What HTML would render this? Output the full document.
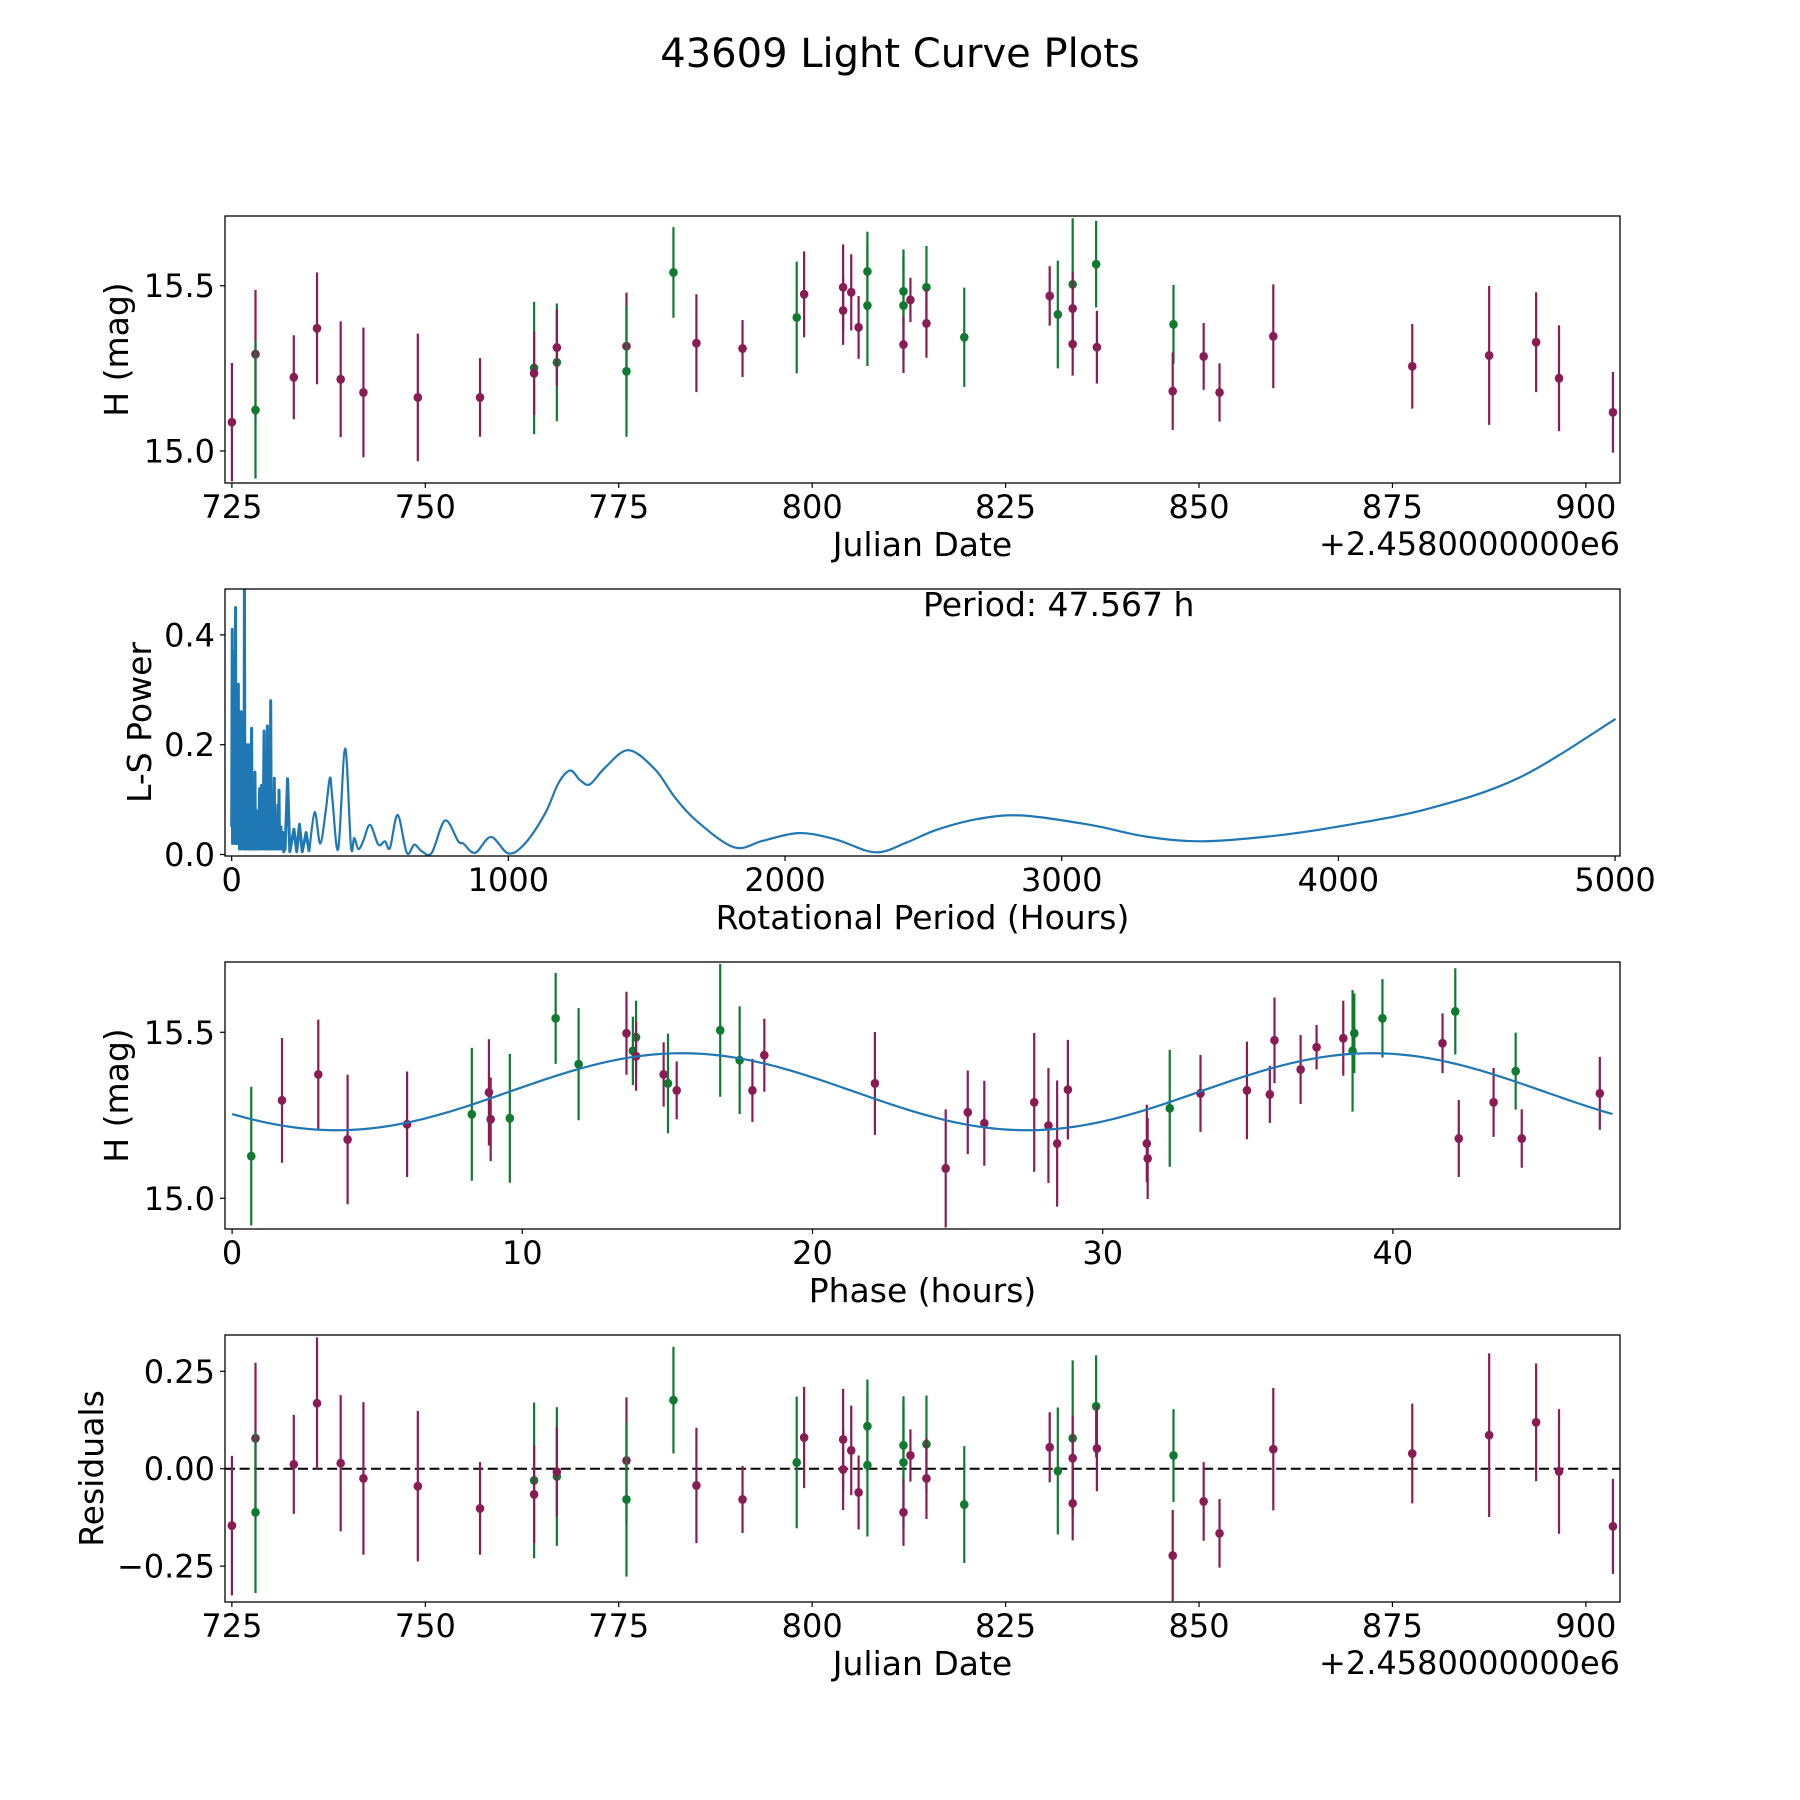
<!DOCTYPE html>
<html><head><meta charset="utf-8">
<style>
html,body{margin:0;padding:0;background:#fff;}
svg{display:block;font-family:"DejaVu Sans","Liberation Sans",sans-serif;}
</style></head>
<body>
<svg id="fig" xmlns="http://www.w3.org/2000/svg" width="1800" height="1800" viewBox="0 0 1800 1800">
<rect width="1800" height="1800" fill="#fff"/>
<text x="900" y="67" font-size="40" text-anchor="middle">43609 Light Curve Plots</text>
</svg>
<script>
// ---- Data: light curve (Julian date offset, H mag, error, band 0=maroon 1=green)
const jd = [725.0,728.05,728.05,733.0,736.0,739.06,742.0,749.03,757.07,764.06,764.06,767.0,767.0,776.0,776.0,782.07,785.04,791.0,798.0,798.96,804.0,804.0,805.05,806.0,807.14,807.14,811.8,811.8,811.8,812.7,814.77,814.77,819.66,830.7,831.75,833.67,833.67,833.67,836.7,836.8,846.7,846.6,850.6,852.65,859.6,877.56,887.5,893.57,896.53,903.5];
const mag = [15.087,15.293,15.124,15.223,15.371,15.217,15.177,15.162,15.162,15.251,15.235,15.268,15.313,15.317,15.241,15.540,15.326,15.310,15.404,15.474,15.495,15.425,15.480,15.374,15.543,15.44,15.483,15.44,15.322,15.457,15.495,15.386,15.344,15.469,15.413,15.504,15.431,15.323,15.565,15.314,15.383,15.181,15.286,15.177,15.347,15.256,15.289,15.329,15.22,15.117];
const magErr = [0.179,0.194,0.207,0.127,0.169,0.175,0.196,0.193,0.119,0.2,0.126,0.178,0.115,0.162,0.198,0.137,0.148,0.086,0.169,0.13,0.13,0.104,0.115,0.095,0.12,0.183,0.106,0.17,0.086,0.067,0.125,0.104,0.15,0.09,0.163,0.2,0.11,0.095,0.131,0.11,0.119,0.117,0.101,0.088,0.157,0.128,0.21,0.151,0.16,0.122];
const band = [0,0,1,0,0,0,0,0,0,1,0,1,0,0,1,1,0,0,1,0,0,0,0,0,1,1,1,1,0,0,1,0,1,0,1,1,0,0,1,0,1,0,0,0,0,0,0,0,0,0];
const resid = [-0.146,0.078,-0.112,0.011,0.168,0.014,-0.025,-0.045,-0.102,-0.030,-0.066,-0.020,-0.008,0.021,-0.079,0.176,-0.043,-0.079,0.016,0.080,0.075,-0.002,0.047,-0.061,0.109,0.009,0.060,0.016,-0.112,0.034,0.063,-0.025,-0.092,0.055,-0.006,0.078,0.027,-0.089,0.160,0.052,0.034,-0.223,-0.084,-0.166,0.050,0.039,0.086,0.119,-0.007,-0.148];
// ---- Data: phase folded
const phase = [0.66,1.72,2.97,3.98,6.03,8.26,8.85,8.91,9.57,11.15,11.94,13.59,13.81,13.92,13.92,14.87,15.02,15.32,16.82,17.49,17.93,18.34,22.15,24.59,25.35,25.92,27.64,28.13,28.43,28.80,31.52,31.55,32.31,33.37,34.97,35.76,35.92,36.82,37.37,38.29,38.61,38.67,39.64,41.71,42.15,42.27,43.47,44.23,44.44,47.13];
const phMag = [15.127,15.295,15.373,15.177,15.223,15.253,15.319,15.238,15.241,15.542,15.404,15.497,15.444,15.485,15.428,15.373,15.346,15.325,15.506,15.416,15.325,15.431,15.346,15.09,15.259,15.226,15.289,15.219,15.165,15.327,15.165,15.12,15.271,15.316,15.325,15.313,15.476,15.388,15.455,15.482,15.444,15.497,15.542,15.467,15.563,15.18,15.289,15.383,15.18,15.316];
const phErr = [0.209,0.188,0.165,0.195,0.159,0.2,0.16,0.126,0.194,0.137,0.169,0.125,0.103,0.11,0.104,0.097,0.15,0.087,0.2,0.162,0.095,0.11,0.155,0.178,0.126,0.128,0.209,0.173,0.19,0.15,0.117,0.122,0.176,0.116,0.147,0.086,0.129,0.104,0.067,0.113,0.183,0.12,0.118,0.09,0.13,0.116,0.104,0.116,0.088,0.11];
const phBand = [1,0,0,0,0,1,0,0,1,1,1,0,1,1,0,0,1,0,1,1,0,0,0,0,0,0,0,0,0,0,0,0,1,0,0,0,0,0,0,0,1,1,1,0,1,0,0,1,0,0];
// fit: mean, amplitude, period (h), phase offset (rad); two peaks per period
const fitParams = [15.321,0.116,47.567,-2.524];
// ---- Data: periodogram (spiky short-period part, then smooth long-period part)
const lsSpikePeriod = [0,2,3,5,6,8,9,11,12,14,15,17,18,20,21,24,25,27,28,31,32,34,35,38,39,42,44,46,48,51,53,56,58,60,62,65,67,70,72,74,77,79,82,84,86,89,91,95,97,101,103,108,110,114,117,119,123,125,129,131,136,138,141,143,148,150,154,156,160,162,167,169,171,173,178,180,185,188,193,202,210,225,235,245,255,269,280];
const lsSpikePower = [0.05,0.41,0.02,0.30,0.03,0.37,0.05,0.24,0.02,0.45,0.03,0.25,0.02,0.28,0.04,0.31,0.02,0.24,0.01,0.2,0.02,0.26,0.01,0.18,0.02,0.22,0.01,0.49,0.01,0.16,0.01,0.2,0.01,0.17,0.01,0.2,0.01,0.16,0.23,0.01,0.1,0.01,0.05,0.15,0.01,0.08,0.01,0.06,0.01,0.12,0.01,0.126,0.01,0.06,0.225,0.01,0.1,0.01,0.234,0.01,0.08,0.01,0.28,0.01,0.07,0.01,0.139,0.01,0.06,0.01,0.09,0.01,0.117,0.01,0.05,0.01,0.04,0.005,0.01,0.138,0.005,0.046,0.005,0.055,0.005,0.04,0.005];
const lsPeriod = [280,300,320,340,355,364,385,410,431,443,458,476,500,530,554,572,600,633,660,687,723,771,819,837,880,937,1000,1060,1133,1181,1223,1260,1295,1349,1434,1530,1602,1683,1816,1920,2049,2180,2326,2440,2548,2700,2858,3102,3300,3501,3750,3989,4322,4654,5002];
const lsPower = [0.005,0.077,0.02,0.08,0.14,0.101,0.01,0.193,0.015,0.03,0.01,0.025,0.054,0.018,0.024,0.012,0.072,0.003,0.018,0.006,0.003,0.062,0.024,0.02,0.003,0.032,0.002,0.02,0.075,0.13,0.153,0.135,0.128,0.158,0.19,0.155,0.104,0.06,0.013,0.025,0.039,0.028,0.004,0.022,0.045,0.065,0.071,0.054,0.033,0.024,0.033,0.05,0.083,0.14,0.247];
const periodLabel = "Period: 47.567 h";
const jdTicks = [725,750,775,800,825,850,875,900];
const magTicks = [15.0,15.5];
const residTicks = [-0.25,0,0.25];
const lsXTicks = [0,1000,2000,3000,4000,5000];
const lsYTicks = [0,0.2,0.4];
const phTicks = [0,10,20,30,40];

const NS = "http://www.w3.org/2000/svg";
const fig = document.getElementById('fig');
const COL = ["#8a1c55","#0f7a30"];
function mk(tag, attrs, parent){ const e=document.createElementNS(NS,tag); for(const k in attrs) e.setAttribute(k,attrs[k]); (parent||fig).appendChild(e); return e; }
function fmt(v,d){ const s=v.toFixed(d); return v<0? "\u2212"+s.slice(1): s; }

const L=225, R=1620;
const jdX = v => 231.9 + (v-725)*7.737;
const p1Y = v => 285.7 - (v-15.5)*330.6;
const p4Y = v => 1468.7 - v*389.6;
const lsX = v => 231.7 + v*0.27667;
const lsY = v => 854.5 - v*549;
const phX = v => 232.1 + v*29.02;
const p3Y = v => 1032.3 - (v-15.5)*332;

function frame(name, top, bot){
  const r = mk('rect',{x:L,y:top,width:R-L,height:bot-top,fill:'none',stroke:'#000','stroke-width':1.3});
  
  
}
function xticks(name, ticks, fx, bot, dec){
  ticks.forEach(t=>{
    const x=fx(t);
    const l=mk('line',{x1:x,x2:x,y1:bot,y2:bot+5,stroke:'#000','stroke-width':1.2});
    
    
    const tx=mk('text',{x:x,y:bot+35,'font-size':32,'text-anchor':'middle'});
    tx.textContent = fmt(t,dec);
    
    
  });
}
function yticks(name, ticks, fy, dec){
  ticks.forEach(t=>{
    const y=fy(t);
    const l=mk('line',{x1:L-5,x2:L,y1:y,y2:y,stroke:'#000','stroke-width':1.2});
    
    
    const tx=mk('text',{x:L-10,y:y+11.5,'font-size':32,'text-anchor':'end'});
    tx.textContent = fmt(t,dec);
    
    
  });
}
function ylabel(name, txt, x, cy){
  const t=mk('text',{x:x,y:cy,'font-size':33,'text-anchor':'middle',transform:`rotate(-90 ${x} ${cy})`});
  t.textContent=txt;
  
  
}
function xlabel(name, txt, bot){
  const t=mk('text',{x:(L+R)/2,y:bot+73,'font-size':33,'text-anchor':'middle'});
  t.textContent=txt;
  
  
}
function offsetText(name, bot){
  const t=mk('text',{x:R,y:bot+72,'font-size':32,'text-anchor':'end'});
  t.textContent='+2.4580000000e6';
  
  
}
function clip(id, top, bot){
  const c=mk('clipPath',{id:id});
  mk('rect',{x:L,y:top,width:R-L,height:bot-top},c);
}
function points(name, xs, ys, es, bs, fx, fy, clipId){
  const g=mk('g',{'clip-path':`url(#${clipId})`});
  
  
  xs.forEach((xv,i)=>{
    const x=fx(xv), c=COL[bs[i]];
    const bar=mk('line',{x1:x,x2:x,y1:fy(ys[i]-es[i]),y2:fy(ys[i]+es[i]),stroke:c,'stroke-width':2.2},g);
    
    
    const dot=mk('ellipse',{cx:x,cy:fy(ys[i]),rx:4.3,ry:4.5,fill:c},g);
    
    
  });
}
// smooth Catmull-Rom path through points
function smoothPath(P){
  let d='M'+P[0][0].toFixed(2)+' '+P[0][1].toFixed(2);
  for(let i=0;i<P.length-1;i++){
    const p0=P[Math.max(0,i-1)], p1=P[i], p2=P[i+1], p3=P[Math.min(P.length-1,i+2)];
    const c1x=p1[0]+(p2[0]-p0[0])/6, c1y=p1[1]+(p2[1]-p0[1])/6;
    const c2x=p2[0]-(p3[0]-p1[0])/6, c2y=p2[1]-(p3[1]-p1[1])/6;
    d+=` C${c1x.toFixed(2)} ${c1y.toFixed(2)} ${c2x.toFixed(2)} ${c2y.toFixed(2)} ${p2[0].toFixed(2)} ${p2[1].toFixed(2)}`;
  }
  return d;
}

// ---- Panel 1
clip('c1',216,483);
points('light-curve', jd, mag, magErr, band, jdX, p1Y, 'c1');
frame('light-curve',216,483);
xticks('light-curve', jdTicks, jdX, 483, 0);
yticks('light-curve', magTicks, p1Y, 1);
xlabel('light-curve','Julian Date',483);
offsetText('light-curve',483);
ylabel('light-curve','H (mag)',128,349.5);

// ---- Panel 2: periodogram
clip('c2',589,856);
const spikePath = lsSpikePeriod.map((p,i)=>(i?'L':'M')+lsX(p).toFixed(2)+' '+lsY(lsSpikePower[i]).toFixed(2)).join(' ');
const spikeLine = mk('path',{d:spikePath,fill:'none',stroke:'#1f77b4','stroke-width':3,'stroke-linejoin':'round','clip-path':'url(#c2)'});


const lsLine = mk('path',{d:smoothPath(lsPeriod.map((p,i)=>[lsX(p),lsY(lsPower[i])])),fill:'none',stroke:'#1f77b4','stroke-width':2.2,'stroke-linejoin':'round','clip-path':'url(#c2)'});


frame('periodogram',589,856);
xticks('periodogram', lsXTicks, lsX, 856, 0);
yticks('periodogram', lsYTicks, lsY, 1);
xlabel('periodogram','Rotational Period (Hours)',856);
ylabel('periodogram','L-S Power',151,722.5);
const pl = mk('text',{x:923,y:616,'font-size':33});
pl.textContent = periodLabel;



// ---- Panel 3
clip('c3',962,1229);
const fitPts=[];
for(let i=0;i<=200;i++){ const p=i*fitParams[2]/200; fitPts.push([p, fitParams[0]+fitParams[1]*Math.sin(4*Math.PI*p/fitParams[2]+fitParams[3])]); }
const fitPath = fitPts.map((q,i)=>(i?'L':'M')+phX(q[0]).toFixed(2)+' '+p3Y(q[1]).toFixed(2)).join(' ');
points('phase-curve', phase, phMag, phErr, phBand, phX, p3Y, 'c3');
const fit = mk('path',{d:fitPath,fill:'none',stroke:'#1f77b4','stroke-width':2.2,'clip-path':'url(#c3)'});


frame('phase-curve',962,1229);
xticks('phase-curve', phTicks, phX, 1229, 0);
yticks('phase-curve', magTicks, p3Y, 1);
xlabel('phase-curve','Phase (hours)',1229);
ylabel('phase-curve','H (mag)',128,1095.5);

// ---- Panel 4
clip('c4',1335,1602);
const zero = mk('line',{x1:L,x2:R,y1:p4Y(0),y2:p4Y(0),stroke:'#000','stroke-width':2,'stroke-dasharray':'10 4.6'});


points('residuals', jd, resid, magErr, band, jdX, p4Y, 'c4');
frame('residuals',1335,1602);
xticks('residuals', jdTicks, jdX, 1602, 0);
yticks('residuals', residTicks, p4Y, 2);
xlabel('residuals','Julian Date',1602);
offsetText('residuals',1602);
ylabel('residuals','Residuals',103,1468.5);
</script>
</body></html>
